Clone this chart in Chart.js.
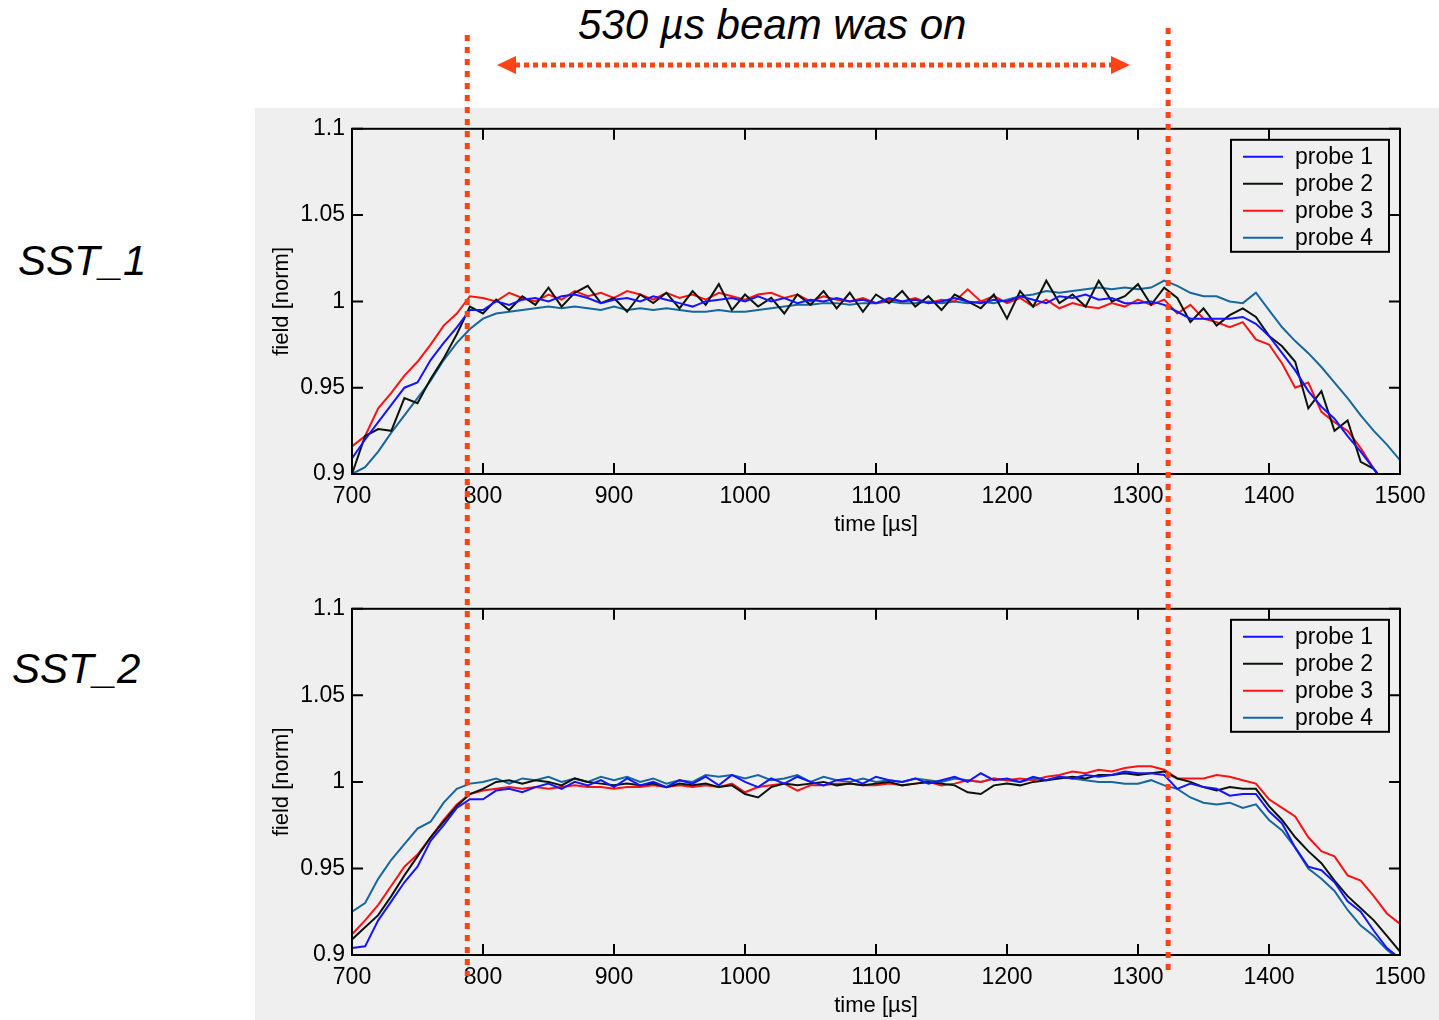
<!DOCTYPE html>
<html lang="en">
<head>
<meta charset="UTF-8">
<title>SST field probes</title>
<script src="https://cdn.jsdelivr.net/npm/chart.js"></script>
<style>
  body { margin:0; width:1439px; height:1020px; overflow:hidden; background:#fff; position:relative;
         font-family:"Liberation Sans", Arial, sans-serif; }
  .panel { position:absolute; left:255px; top:108px; width:1184px; height:912px; background:#efefef; }
  .lbl { position:absolute; font-style:italic; font-size:42px; line-height:42px; color:#000; white-space:nowrap; }
  .box { position:absolute; left:255px; width:1184px; }
</style>
</head>
<body>
<div class="panel"></div>
<div class="lbl" style="left:578px; top:4px;">530 µs beam was on</div>
<div class="lbl" style="left:18px; top:240px;">SST_1</div>
<div class="lbl" style="left:12px; top:648px;">SST_2</div>
<div class="box" style="top:108px; height:446px;"><canvas id="sst1"></canvas></div>
<div class="box" style="top:588px; height:447px;"><canvas id="sst2"></canvas></div>
<canvas id="ov" width="1439" height="1020" style="position:absolute;left:0;top:0;pointer-events:none"></canvas>

<script>
// time axis [µs]
const times = [
  700,710,720,730,740,750,760,770,780,790,
  800,810,820,830,840,850,860,870,880,890,
  900,910,920,930,940,950,960,970,980,990,
  1000,1010,1020,1030,1040,1050,1060,1070,1080,1090,
  1100,1110,1120,1130,1140,1150,1160,1170,1180,1190,
  1200,1210,1220,1230,1240,1250,1260,1270,1280,1290,
  1300,1310,1320,1330,1340,1350,1360,1370,1380,1390,
  1400,1410,1420,1430,1440,1450,1460,1470,1480,1490,
  1500
];
const xTicks = [700,800,900,1000,1100,1200,1300,1400,1500];
const yTicks = [0.9,0.95,1,1.05,1.1];
const probeNames = ['probe 1','probe 2','probe 3','probe 4'];
const probeColors = ['#1414ff','#0a140a','#ff1212','#16679e'];
const beamOn = [788, 1323];   // start / end of beam (µs)

// SST_1
const sst1_p1 = [
  0.909,0.920,0.930,0.940,0.950,0.953,0.966,0.976,0.985,0.995,
  0.995,1.000,0.998,1.001,1.002,1.000,1.003,1.004,1.002,0.999,
  1.001,1.002,1.000,1.003,1.001,0.999,0.997,1.000,1.001,1.002,
  1.000,1.003,1.000,1.002,0.999,1.001,1.000,1.002,1.000,1.001,
  0.999,1.002,1.000,1.001,0.999,1.000,1.002,1.000,0.999,1.001,
  1.000,1.003,1.001,0.999,1.003,1.002,1.004,1.001,1.002,0.999,
  0.999,1.000,0.998,0.994,0.990,0.990,0.990,0.990,0.991,0.987,
  0.980,0.970,0.960,0.948,0.939,0.932,0.922,0.913,0.903,0.893,
  0.885
];
const sst1_p2 = [
  0.900,0.922,0.926,0.925,0.944,0.941,0.955,0.967,0.981,0.997,
  0.993,1.001,0.995,1.003,0.998,1.008,0.997,1.005,1.009,0.999,
  1.002,0.994,1.004,0.999,1.005,0.996,1.006,0.998,1.010,0.995,
  1.004,0.997,1.002,0.993,1.004,0.998,1.006,0.996,1.005,0.994,
  1.004,0.999,1.006,0.997,1.003,0.995,1.004,1.000,0.996,1.004,
  0.990,1.006,0.997,1.012,0.999,1.004,0.997,1.012,1.000,1.003,
  1.010,0.998,1.008,1.002,0.988,0.996,0.986,0.992,0.996,0.991,
  0.980,0.974,0.965,0.938,0.948,0.925,0.931,0.907,0.903,0.893,
  0.886
];
const sst1_p3 = [
  0.916,0.922,0.938,0.947,0.957,0.965,0.975,0.986,0.993,1.003,
  1.002,1.000,1.005,1.002,1.000,1.004,1.001,1.006,1.003,1.005,
  1.002,1.006,1.004,1.001,1.005,1.002,1.004,1.001,1.005,1.003,
  1.001,1.004,1.005,1.002,1.004,1.000,1.003,1.001,1.000,1.002,
  0.999,1.001,1.000,1.002,0.999,1.001,1.000,1.007,1.000,1.003,
  0.999,1.002,0.997,1.001,0.996,0.999,0.997,0.996,0.999,0.997,
  1.001,0.998,1.001,0.993,0.998,0.990,0.988,0.985,0.988,0.978,
  0.975,0.964,0.950,0.953,0.936,0.930,0.925,0.915,0.903,0.893,
  0.884
];
const sst1_p4 = [
  0.900,0.904,0.913,0.924,0.934,0.944,0.954,0.966,0.976,0.984,
  0.990,0.993,0.994,0.995,0.996,0.997,0.996,0.997,0.996,0.995,
  0.997,0.995,0.996,0.995,0.996,0.995,0.994,0.994,0.995,0.994,
  0.994,0.995,0.996,0.997,0.998,0.998,0.999,0.999,0.998,0.999,
  0.999,1.000,0.999,0.999,1.000,0.999,1.000,0.999,1.000,0.999,
  1.001,1.003,1.004,1.006,1.005,1.006,1.007,1.008,1.007,1.008,
  1.007,1.008,1.012,1.009,1.005,1.003,1.003,1.000,0.999,1.005,
  0.995,0.985,0.977,0.970,0.962,0.953,0.944,0.934,0.925,0.917,
  0.908
];

// SST_2
const sst2_p1 = [
  0.904,0.905,0.920,0.931,0.942,0.951,0.966,0.975,0.985,0.990,
  0.990,0.995,0.996,0.994,0.997,0.999,0.996,1.000,0.998,1.001,
  0.997,1.002,0.998,1.000,0.997,1.001,0.999,1.003,0.998,1.004,
  1.000,0.997,1.002,0.999,1.003,1.000,0.998,1.001,1.002,0.999,
  1.003,1.001,1.000,1.002,0.999,1.001,1.003,1.000,1.005,1.001,
  1.002,1.000,1.003,1.001,1.003,1.002,1.004,1.003,1.004,1.006,
  1.005,1.005,1.004,0.996,0.999,0.997,0.996,0.992,0.993,0.993,
  0.983,0.976,0.962,0.951,0.949,0.942,0.931,0.925,0.914,0.904,
  0.898
];
const sst2_p2 = [
  0.909,0.916,0.923,0.934,0.946,0.957,0.968,0.977,0.986,0.993,
  0.996,1.000,1.001,0.999,1.001,1.000,0.998,1.002,1.000,0.999,
  0.998,0.999,0.998,0.999,0.997,0.999,0.998,0.999,0.997,0.998,
  0.993,0.991,0.997,0.999,0.998,0.999,1.000,0.998,0.999,0.998,
  0.999,1.000,0.998,0.999,1.000,0.999,0.998,0.994,0.993,0.998,
  0.999,0.998,1.000,1.001,1.002,1.003,1.002,1.004,1.004,1.005,
  1.004,1.005,1.006,1.002,1.000,0.997,0.995,0.997,0.996,0.996,
  0.986,0.978,0.968,0.960,0.953,0.943,0.934,0.927,0.920,0.911,
  0.902
];
const sst2_p3 = [
  0.912,0.920,0.929,0.940,0.951,0.958,0.968,0.978,0.987,0.993,
  0.995,0.996,0.997,0.996,0.997,0.996,0.997,0.998,0.997,0.997,
  0.996,0.997,0.997,0.998,0.997,0.998,0.997,0.998,0.997,0.999,
  0.994,0.997,0.998,0.999,0.995,0.998,0.998,0.999,0.999,0.998,
  0.998,0.999,0.998,0.999,1.000,0.998,0.999,1.001,1.000,1.002,
  1.001,1.002,1.001,1.003,1.004,1.006,1.005,1.007,1.006,1.008,
  1.009,1.009,1.007,1.002,1.002,1.002,1.004,1.003,1.001,0.999,
  0.990,0.985,0.980,0.968,0.960,0.957,0.946,0.943,0.934,0.924,
  0.918
];
const sst2_p4 = [
  0.925,0.930,0.944,0.955,0.964,0.973,0.977,0.988,0.996,0.999,
  1.000,1.002,0.999,1.002,1.001,1.003,1.000,1.002,1.000,1.003,
  1.001,1.003,1.000,1.002,0.999,1.001,1.000,1.004,1.003,1.004,
  1.002,1.004,1.001,1.002,1.004,1.000,1.003,1.001,1.000,1.002,
  1.000,1.001,1.000,1.002,1.001,1.000,1.002,1.001,1.000,1.002,
  1.001,1.000,1.002,1.001,1.003,1.002,1.001,1.000,1.000,0.999,
  0.999,1.001,0.998,0.996,0.991,0.988,0.987,0.988,0.985,0.987,
  0.978,0.972,0.962,0.950,0.944,0.937,0.926,0.917,0.911,0.903,
  0.897
];

const FONT = '"Liberation Sans", Arial, sans-serif';

// box, inward ticks and legend like the matlab figure
const framePlugin = {
  id: 'frame',
  afterDatasetsDraw(chart) {
    const ctx = chart.ctx, a = chart.chartArea, x = chart.scales.x, y = chart.scales.y;
    ctx.save();
    ctx.strokeStyle = '#000';
    ctx.lineWidth = 2;
    ctx.beginPath();
    xTicks.forEach(v => {
      const px = x.getPixelForValue(v);
      ctx.moveTo(px, a.bottom); ctx.lineTo(px, a.bottom - 11);
      ctx.moveTo(px, a.top); ctx.lineTo(px, a.top + 11);
    });
    yTicks.forEach(v => {
      const py = y.getPixelForValue(v);
      ctx.moveTo(a.left, py); ctx.lineTo(a.left + 11, py);
      ctx.moveTo(a.right, py); ctx.lineTo(a.right - 11, py);
    });
    ctx.stroke();
    ctx.strokeRect(a.left, a.top, a.right - a.left, a.bottom - a.top);

    // legend
    const bw = 158, bh = 112;
    const bx = a.right - 11 - bw, by = a.top + 11;
    ctx.fillStyle = '#efefef';
    ctx.fillRect(bx, by, bw, bh);
    ctx.strokeRect(bx, by, bw, bh);
    ctx.font = '23px ' + FONT;
    ctx.textBaseline = 'middle';
    chart.data.datasets.forEach((ds, i) => {
      const ly = by + 17 + i * 27;
      ctx.strokeStyle = ds.borderColor;
      ctx.beginPath(); ctx.moveTo(bx + 12, ly); ctx.lineTo(bx + 52, ly); ctx.stroke();
      ctx.fillStyle = '#000';
      ctx.fillText(ds.label, bx + 64, ly + 1);
    });
    ctx.restore();
  }
};

function makeChart(id, series) {
  return new Chart(document.getElementById(id), {
    type: 'line',
    data: {
      datasets: series.map((vals, i) => ({
        label: probeNames[i],
        data: times.map((t, k) => ({ x: t, y: vals[k] })),
        borderColor: probeColors[i],
        borderWidth: 2,
        pointRadius: 0,
        tension: 0
      }))
    },
    options: {
      responsive: true,
      maintainAspectRatio: false,
      animation: false,
      events: [],
      layout: { padding: { top: 19, right: 39, left: 0, bottom: 0 } },
      plugins: { legend: { display: false }, tooltip: { enabled: false } },
      scales: {
        x: {
          type: 'linear', min: 700, max: 1500,
          afterBuildTicks: s => { s.ticks = xTicks.map(v => ({ value: v })); },
          afterFit: s => { s.height = 80; },
          grid: { display: false, drawTicks: false },
          border: { display: false },
          ticks: { color: '#000', font: { family: FONT, size: 23 }, padding: 9, maxRotation: 0, autoSkip: false,
                   callback: v => String(v) },
          title: { display: true, text: 'time [µs]', color: '#000', font: { family: FONT, size: 22 }, padding: { top: 0, bottom: 16 } }
        },
        y: {
          min: 0.9, max: 1.1,
          afterBuildTicks: s => { s.ticks = yTicks.map(v => ({ value: v })); },
          afterFit: s => { s.width = 97; },
          grid: { display: false, drawTicks: false },
          border: { display: false },
          ticks: { color: '#000', font: { family: FONT, size: 23 }, padding: 7, callback: v => String(+v.toFixed(2)) },
          title: { display: true, text: 'field [norm]', color: '#000', font: { family: FONT, size: 22 }, padding: { top: 14, bottom: 0 } }
        }
      }
    },
    plugins: [framePlugin]
  });
}

const chart1 = makeChart('sst1', [sst1_p1, sst1_p2, sst1_p3, sst1_p4]);
const chart2 = makeChart('sst2', [sst2_p1, sst2_p2, sst2_p3, sst2_p4]);

// red dotted markers for the beam window + arrow
const ov = document.getElementById('ov').getContext('2d');
const red = '#ff4316';
ov.strokeStyle = red;
ov.fillStyle = red;
ov.lineWidth = 5;
ov.setLineDash([6, 6]);
const x0 = 255 + chart1.scales.x.getPixelForValue(beamOn[0]);
const x1 = 255 + chart1.scales.x.getPixelForValue(beamOn[1]);
ov.beginPath(); ov.moveTo(x0, 35); ov.lineTo(x0, 976); ov.stroke();
ov.beginPath(); ov.moveTo(x1, 28); ov.lineTo(x1, 972); ov.stroke();

ov.setLineDash([5, 4]);
ov.beginPath(); ov.moveTo(515, 65); ov.lineTo(1112, 65); ov.stroke();
ov.beginPath(); ov.moveTo(497, 65); ov.lineTo(516, 56); ov.lineTo(516, 74); ov.closePath(); ov.fill();
ov.beginPath(); ov.moveTo(1130, 65); ov.lineTo(1111, 56); ov.lineTo(1111, 74); ov.closePath(); ov.fill();
</script>
</body>
</html>
